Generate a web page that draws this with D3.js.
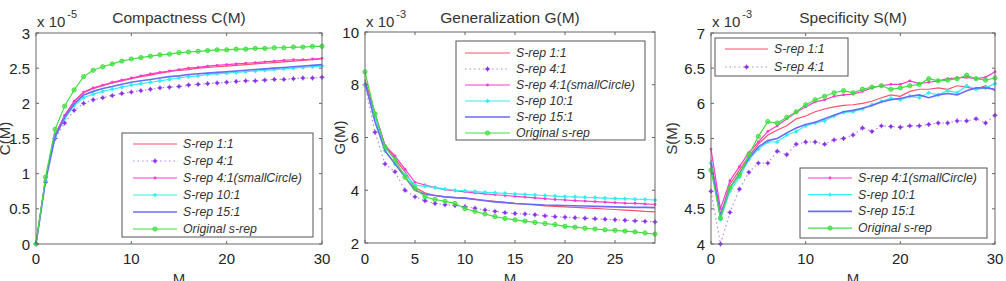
<!DOCTYPE html>
<html>
<head>
<meta charset="utf-8">
<script src="https://cdn.jsdelivr.net/npm/d3@7"></script>
<style>
  body { margin: 0; background: #fff; }
  text { font-family: "Liberation Sans", Arial, sans-serif; }
</style>
</head>
<body>
<svg id="fig" width="1006" height="281"></svg>
<script>
// series shared by all three panels
const seriesNames = ['S-rep 1:1', 'S-rep 4:1', 'S-rep 4:1(smallCircle)', 'S-rep 10:1', 'S-rep 15:1', 'Original s-rep'];
const seriesColors = ['#ff4f6a', '#8a33ee', '#ff3acc', '#33eef2', '#6a6aff', '#3fe03f'];
const seriesMarkers = ['none', 'star', 'dot', 'diamond', 'none', 'circle'];

// Compactness C(M), x 1e-5, M = 0..30
const compS11 = [0, 0.92, 1.55, 1.82, 2.02, 2.15, 2.21, 2.25, 2.29, 2.32, 2.35, 2.38, 2.40, 2.43, 2.45, 2.47, 2.48, 2.50, 2.51, 2.52, 2.53, 2.54, 2.55, 2.56, 2.57, 2.58, 2.59, 2.60, 2.61, 2.62, 2.63];
const compS41 = [0, 0.88, 1.50, 1.72, 1.90, 2.00, 2.05, 2.08, 2.11, 2.14, 2.16, 2.18, 2.20, 2.22, 2.23, 2.24, 2.26, 2.27, 2.28, 2.29, 2.30, 2.31, 2.32, 2.32, 2.33, 2.34, 2.34, 2.35, 2.36, 2.36, 2.37];
const compSmall = [0, 0.92, 1.55, 1.83, 2.03, 2.16, 2.22, 2.26, 2.30, 2.33, 2.36, 2.39, 2.42, 2.44, 2.46, 2.48, 2.50, 2.51, 2.53, 2.54, 2.55, 2.56, 2.57, 2.58, 2.59, 2.60, 2.61, 2.62, 2.62, 2.63, 2.64];
const compS101 = [0, 0.90, 1.52, 1.78, 1.97, 2.08, 2.13, 2.17, 2.20, 2.23, 2.26, 2.28, 2.30, 2.32, 2.34, 2.36, 2.38, 2.39, 2.41, 2.42, 2.43, 2.44, 2.45, 2.46, 2.47, 2.48, 2.49, 2.50, 2.51, 2.52, 2.53];
const compS151 = [0, 0.90, 1.52, 1.80, 1.99, 2.12, 2.17, 2.21, 2.24, 2.27, 2.30, 2.32, 2.34, 2.36, 2.38, 2.39, 2.41, 2.42, 2.43, 2.44, 2.45, 2.46, 2.47, 2.48, 2.49, 2.50, 2.51, 2.52, 2.53, 2.54, 2.55];
const compOrig = [0, 0.95, 1.63, 1.96, 2.19, 2.38, 2.47, 2.52, 2.56, 2.60, 2.63, 2.65, 2.67, 2.69, 2.70, 2.72, 2.73, 2.74, 2.75, 2.76, 2.76, 2.77, 2.77, 2.78, 2.78, 2.79, 2.79, 2.80, 2.80, 2.81, 2.81];

// Generalization G(M), x 1e-3, M = 0..29
const genS11 = [8.2, 6.9, 5.7, 5.2, 4.7, 4.1, 3.9, 3.8, 3.75, 3.72, 3.7, 3.66, 3.62, 3.58, 3.54, 3.5, 3.47, 3.44, 3.41, 3.39, 3.37, 3.35, 3.33, 3.31, 3.29, 3.27, 3.25, 3.23, 3.2, 3.18];
const genS41 = [8.0, 6.2, 5.0, 4.7, 4.0, 3.75, 3.6, 3.5, 3.45, 3.42, 3.38, 3.32, 3.25, 3.2, 3.15, 3.12, 3.1, 3.07, 3.03, 3.0, 2.98, 2.96, 2.94, 2.92, 2.9, 2.88, 2.86, 2.84, 2.82, 2.8];
const genSmall = [8.0, 6.9, 5.7, 5.3, 4.8, 4.3, 4.2, 4.1, 4.02, 3.98, 3.94, 3.9, 3.86, 3.83, 3.8, 3.77, 3.74, 3.71, 3.68, 3.65, 3.63, 3.61, 3.59, 3.57, 3.55, 3.53, 3.51, 3.5, 3.48, 3.46];
const genS101 = [8.0, 6.8, 5.5, 5.0, 4.6, 4.2, 4.15, 4.1, 4.05, 4.0, 3.98, 3.95, 3.92, 3.9, 3.88, 3.86, 3.84, 3.82, 3.8, 3.78, 3.76, 3.75, 3.73, 3.72, 3.7, 3.69, 3.68, 3.66, 3.65, 3.63];
const genS151 = [8.1, 6.6, 5.5, 5.0, 4.5, 4.0, 3.85, 3.8, 3.75, 3.72, 3.7, 3.65, 3.6, 3.56, 3.53, 3.5, 3.48, 3.46, 3.44, 3.43, 3.42, 3.41, 3.4, 3.39, 3.38, 3.37, 3.36, 3.35, 3.35, 3.34];
const genOrig = [8.49, 6.9, 5.64, 5.15, 4.5, 4.08, 3.75, 3.65, 3.58, 3.5, 3.3, 3.2, 3.1, 3.0, 2.93, 2.88, 2.83, 2.78, 2.74, 2.7, 2.63, 2.6, 2.56, 2.53, 2.5, 2.48, 2.45, 2.42, 2.38, 2.34];

// Specificity S(M), x 1e-3, M = 0..30
const specS11 = [5.2, 4.4, 4.85, 5.05, 5.25, 5.42, 5.55, 5.62, 5.68, 5.78, 5.82, 5.88, 5.92, 5.95, 5.97, 5.98, 6.0, 6.03, 6.08, 6.12, 6.1, 6.17, 6.2, 6.2, 6.22, 6.2, 6.25, 6.23, 6.2, 6.25, 6.18];
const specS41 = [4.75, 4.0, 4.45, 4.78, 5.02, 5.15, 5.15, 5.32, 5.27, 5.42, 5.45, 5.45, 5.42, 5.48, 5.5, 5.55, 5.65, 5.6, 5.68, 5.67, 5.66, 5.68, 5.68, 5.7, 5.72, 5.72, 5.75, 5.75, 5.78, 5.72, 5.83];
const specSmall = [5.35, 4.5, 4.9, 5.1, 5.3, 5.45, 5.6, 5.68, 5.78, 5.87, 5.95, 6.02, 6.05, 6.1, 6.12, 6.13, 6.17, 6.22, 6.25, 6.27, 6.27, 6.32, 6.28, 6.3, 6.32, 6.35, 6.36, 6.37, 6.35, 6.37, 6.45];
const specS101 = [5.15, 4.35, 4.75, 4.95, 5.2, 5.35, 5.45, 5.45, 5.55, 5.6, 5.68, 5.72, 5.75, 5.82, 5.87, 5.88, 5.92, 5.98, 6.03, 6.07, 6.05, 6.1, 6.08, 6.15, 6.12, 6.18, 6.15, 6.25, 6.2, 6.22, 6.28];
const specS151 = [5.15, 4.4, 4.8, 5.0, 5.22, 5.38, 5.47, 5.5, 5.58, 5.65, 5.7, 5.73, 5.78, 5.83, 5.88, 5.9, 5.93, 5.97, 6.02, 6.05, 6.07, 6.1, 6.12, 6.08, 6.12, 6.14, 6.12, 6.18, 6.22, 6.22, 6.2];
const specOrig = [5.05, 4.37, 4.8, 4.98, 5.27, 5.53, 5.74, 5.72, 5.8, 5.88, 5.98, 6.05, 6.1, 6.15, 6.18, 6.15, 6.2, 6.23, 6.25, 6.2, 6.22, 6.25, 6.27, 6.35, 6.32, 6.33, 6.35, 6.4, 6.35, 6.33, 6.36];

// tick labels
const compXTicks = [0, 10, 20, 30];
const compYTicks = [0, 0.5, 1, 1.5, 2, 2.5, 3];
const genXTicks = [0, 5, 10, 15, 20, 25];
const genYTicks = [2, 4, 6, 8, 10];
const specXTicks = [0, 10, 20, 30];
const specYTicks = [4, 4.5, 5, 5.5, 6, 6.5, 7];

const svg = d3.select('#fig');

function drawMarker(g, kind, x, y, color) {
    if (kind === 'star') {
        g.append('circle').attr('cx', x).attr('cy', y).attr('r', 1.7).attr('fill', color);
        g.append('path').attr('d', `M${x - 2.5},${y}H${x + 2.5}M${x},${y - 2.5}V${y + 2.5}`)
            .attr('stroke', color).attr('stroke-width', 0.9);
    } else if (kind === 'dot') {
        g.append('circle').attr('cx', x).attr('cy', y).attr('r', 1.4).attr('fill', color);
    } else if (kind === 'diamond') {
        g.append('path').attr('d', `M${x},${y - 2.3}L${x + 2.3},${y}L${x},${y + 2.3}L${x - 2.3},${y}Z`)
            .attr('fill', color);
    } else if (kind === 'circle') {
        g.append('circle').attr('cx', x).attr('cy', y).attr('r', 2.1)
            .attr('fill', color).attr('fill-opacity', 0.6).attr('stroke', color).attr('stroke-width', 1);
    }
}

function lineStyle(sel, i) {
    sel.attr('stroke', seriesColors[i])
        .attr('stroke-width', i === 4 ? 1.6 : 1.2)
        .attr('fill', 'none');
    if (i === 1) sel.attr('stroke-dasharray', '1.5,3').attr('stroke-opacity', 0.6);
}

function drawLegend(g, items, box) {
    g.append('rect')
        .attr('x', box.x0).attr('y', box.y0)
        .attr('width', box.x1 - box.x0).attr('height', box.y1 - box.y0)
        .attr('fill', '#fff').attr('stroke', '#555').attr('stroke-width', 1);
    items.forEach((i, k) => {
        const y = box.rowY + k * box.step;
        g.append('line').attr('x1', box.lx0).attr('x2', box.lx1).attr('y1', y).attr('y2', y)
            .call(lineStyle, i);
        drawMarker(g, seriesMarkers[i], (box.lx0 + box.lx1) / 2, y, seriesColors[i]);
        g.append('text').attr('x', box.tx).attr('y', y + 4)
            .attr('font-size', 12.3).attr('font-style', 'italic').attr('fill', '#333')
            .text(seriesNames[i]);
    });
}

function drawPanel(p) {
    const x = d3.scaleLinear().domain(p.xDomain).range([p.left, p.right]);
    const y = d3.scaleLinear().domain(p.yDomain).range([p.bottom, p.top]);
    const g = svg.append('g');

    // data lines
    p.series.forEach((vals, i) => {
        const pts = vals.map((v, m) => [m, v]);
        g.append('path')
            .attr('d', d3.line().x(d => x(d[0])).y(d => y(d[1]))(pts))
            .call(lineStyle, i);
        if (seriesMarkers[i] !== 'none') {
            pts.forEach(d => drawMarker(g, seriesMarkers[i], x(d[0]), y(d[1]), seriesColors[i]));
        }
    });

    // axes box
    g.append('rect')
        .attr('x', p.left).attr('y', p.top)
        .attr('width', p.right - p.left).attr('height', p.bottom - p.top)
        .attr('fill', 'none').attr('stroke', '#666').attr('stroke-width', 1);

    // ticks inside, MATLAB style
    const tl = 3;
    p.xTicks.forEach(t => {
        g.append('path').attr('d', `M${x(t)},${p.bottom}v${-tl}M${x(t)},${p.top}v${tl}`)
            .attr('stroke', '#666');
        g.append('text').attr('x', x(t)).attr('y', 264).attr('text-anchor', 'middle')
            .attr('font-size', 15).attr('fill', '#222').text(t);
    });
    p.yTicks.forEach(t => {
        g.append('path').attr('d', `M${p.left},${y(t)}h${tl}M${p.right},${y(t)}h${-tl}`)
            .attr('stroke', '#666');
        g.append('text').attr('x', p.left - 6).attr('y', y(t) + 5.5).attr('text-anchor', 'end')
            .attr('font-size', 15).attr('fill', '#222').text(t);
    });

    // title, exponent, axis labels
    g.append('text').attr('x', (p.left + p.right) / 2).attr('y', 23).attr('text-anchor', 'middle')
        .attr('font-size', 15.5).attr('fill', '#333').text(p.title);
    const ex = g.append('text').attr('x', p.left + 1).attr('y', 27).attr('font-size', 15).attr('fill', '#333');
    ex.append('tspan').text('x 10');
    ex.append('tspan').attr('dx', 2).attr('dy', -9).attr('font-size', 11).text(p.exponent);
    g.append('text').attr('x', (p.left + p.right) / 2).attr('y', 284).attr('text-anchor', 'middle')
        .attr('font-size', 15).attr('fill', '#333').text('M');
    g.append('text')
        .attr('transform', `translate(${p.ylabelX},${(p.top + p.bottom) / 2}) rotate(-90)`)
        .attr('text-anchor', 'middle').attr('font-size', 15).attr('fill', '#333').text(p.ylabel);

    p.legends.forEach(l => drawLegend(g, l.items, l.box));
}

drawPanel({
    left: 36, right: 322, top: 33, bottom: 244,
    xDomain: [0, 30], yDomain: [0, 3],
    xTicks: compXTicks, yTicks: compYTicks,
    title: 'Compactness C(M)', exponent: '-5', ylabel: 'C(M)', ylabelX: 10,
    series: [compS11, compS41, compSmall, compS101, compS151, compOrig],
    legends: [{items: [0, 1, 2, 3, 4, 5],
        box: {x0: 122, x1: 313, y0: 133, y1: 237, rowY: 144, step: 17, lx0: 133, lx1: 177, tx: 183}}]
});

drawPanel({
    left: 365, right: 655, top: 32, bottom: 243,
    xDomain: [0, 29], yDomain: [2, 10],
    xTicks: genXTicks, yTicks: genYTicks,
    title: 'Generalization G(M)', exponent: '-3', ylabel: 'G(M)', ylabelX: 345,
    series: [genS11, genS41, genSmall, genS101, genS151, genOrig],
    legends: [{items: [0, 1, 2, 3, 4, 5],
        box: {x0: 456, x1: 645, y0: 41, y1: 140, rowY: 53, step: 16, lx0: 465, lx1: 510, tx: 516}}]
});

drawPanel({
    left: 711, right: 995, top: 33, bottom: 244,
    xDomain: [0, 30], yDomain: [4, 7],
    xTicks: specXTicks, yTicks: specYTicks,
    title: 'Specificity S(M)', exponent: '-3', ylabel: 'S(M)', ylabelX: 677,
    series: [specS11, specS41, specSmall, specS101, specS151, specOrig],
    legends: [
        {items: [0, 1], box: {x0: 715, x1: 848, y0: 38, y1: 76, rowY: 49, step: 18, lx0: 725, lx1: 768, tx: 774}},
        {items: [2, 3, 4, 5], box: {x0: 800, x1: 987, y0: 168, y1: 238, rowY: 178, step: 16.7, lx0: 808, lx1: 852, tx: 858}}
    ]
});
</script>
</body>
</html>
